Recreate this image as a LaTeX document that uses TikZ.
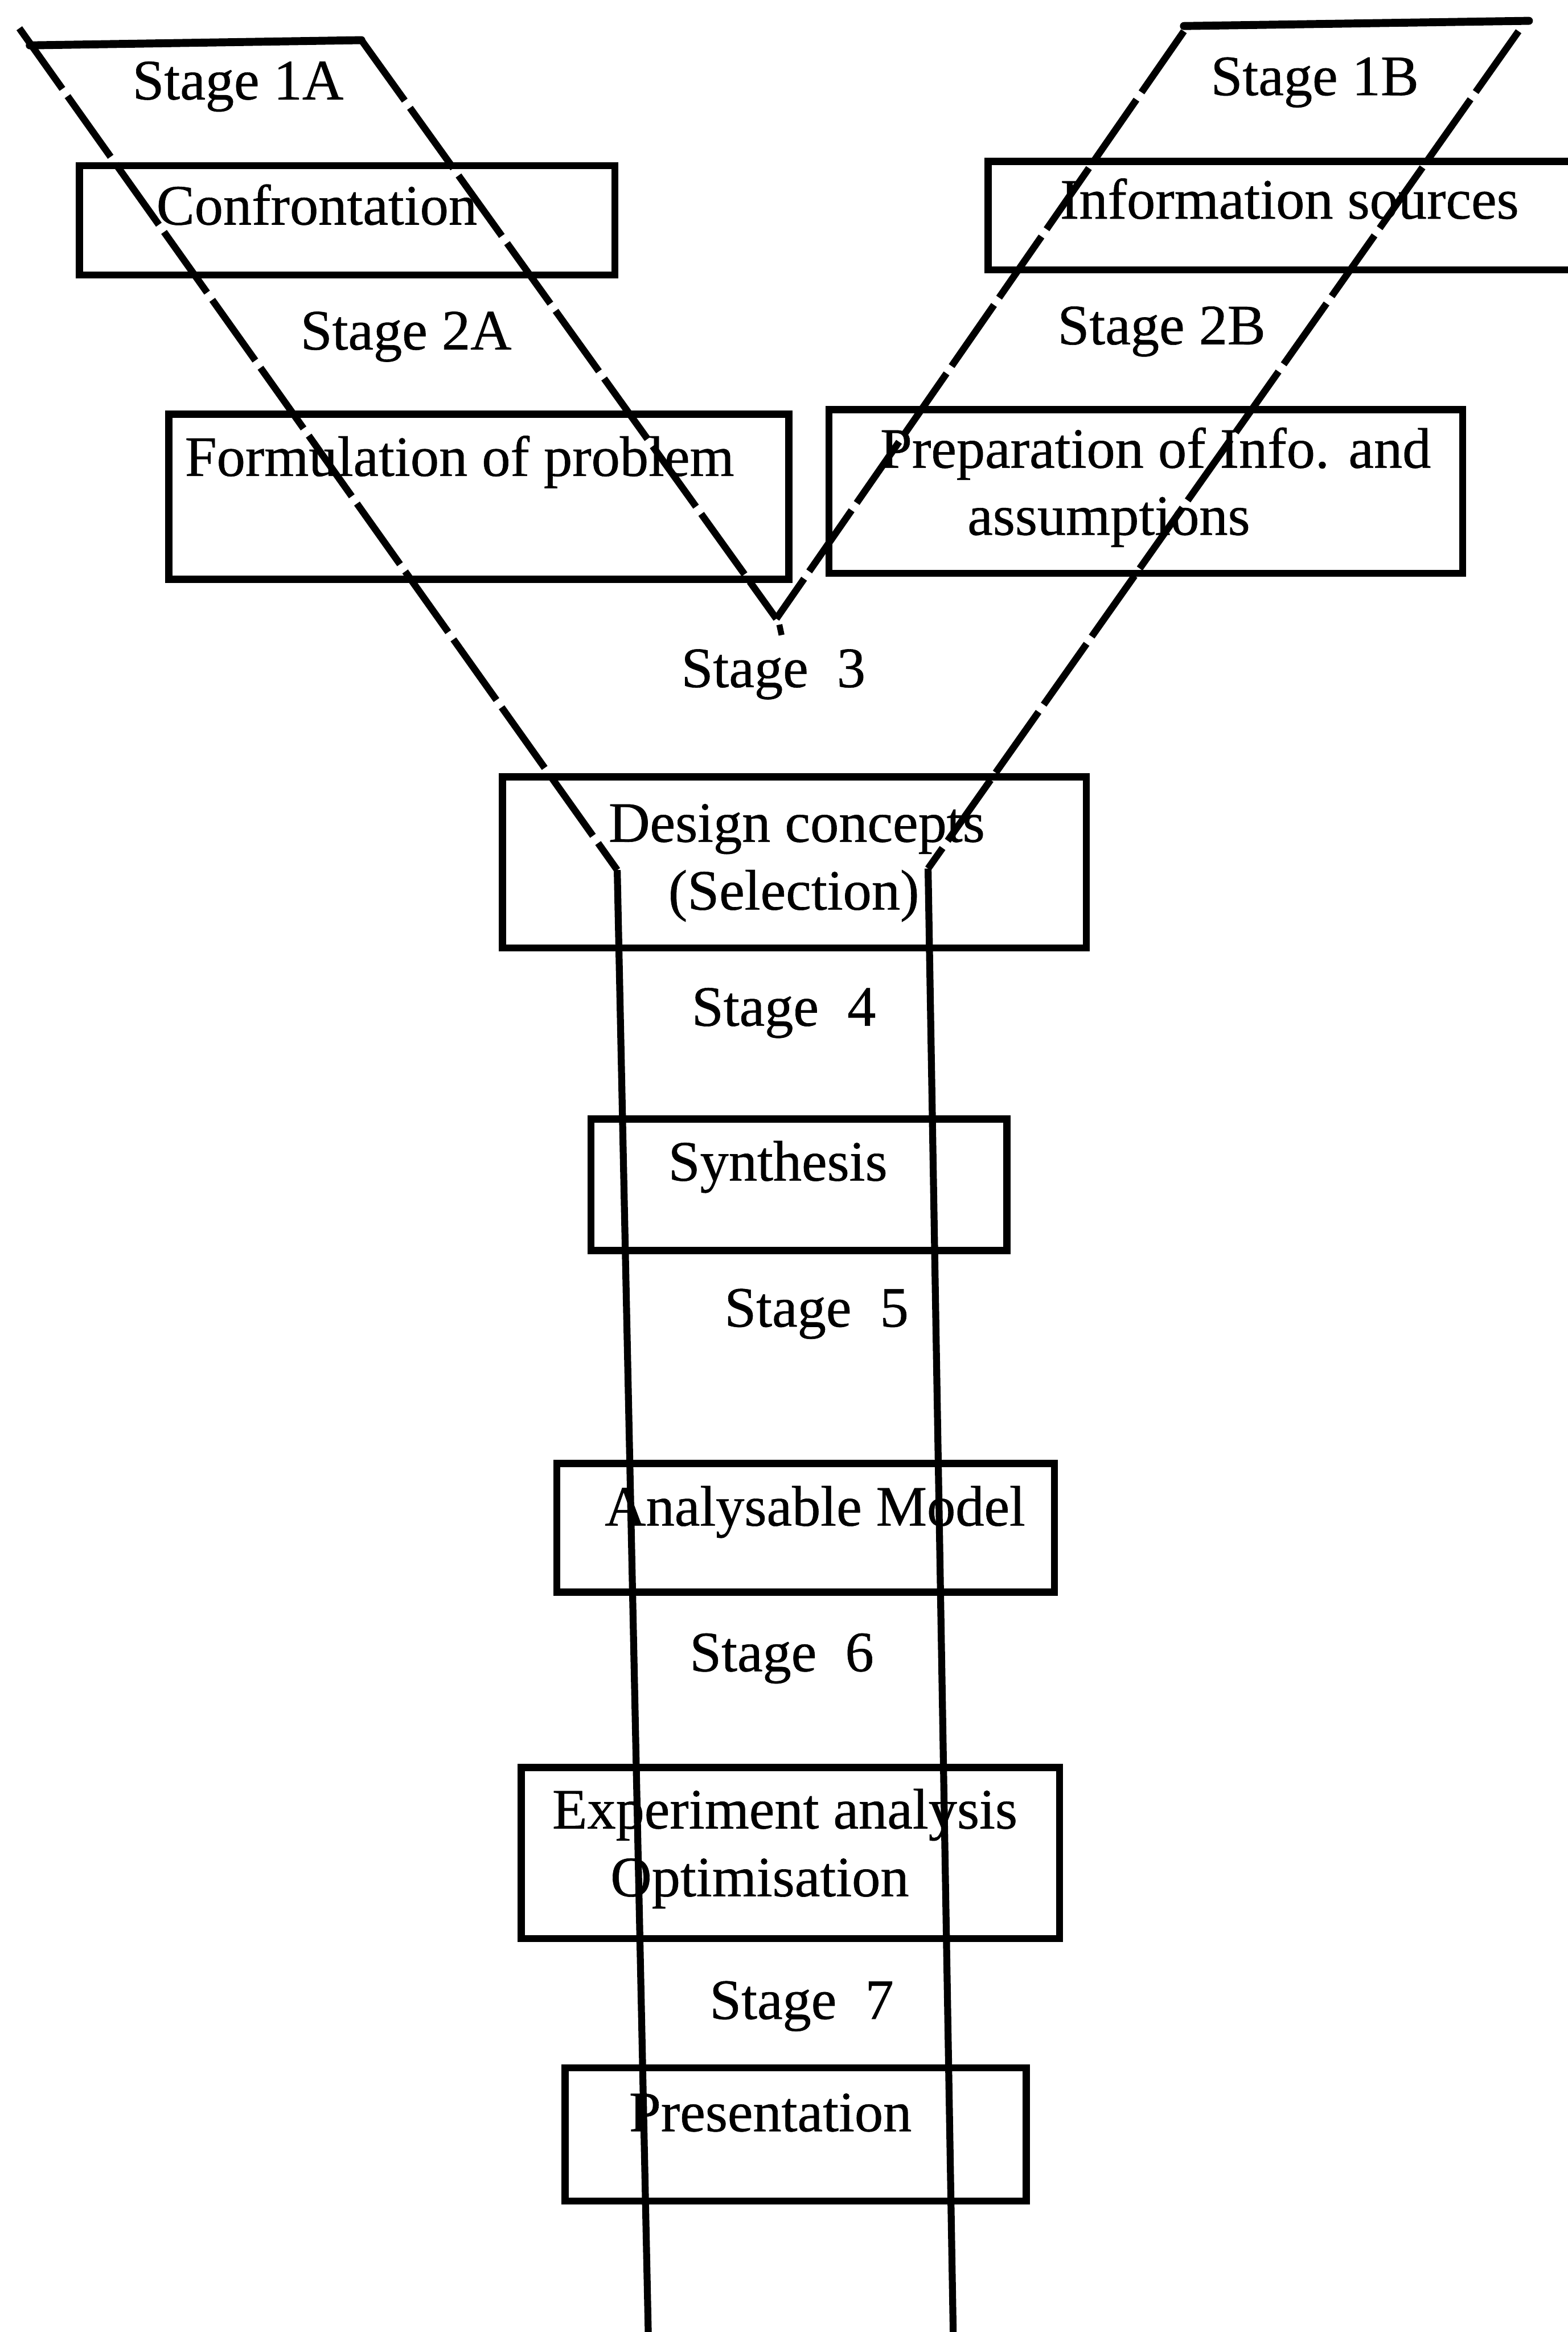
\documentclass[tikz,border=0pt]{standalone}
\usepackage{fontspec}
\setmainfont[FakeBold=0.6]{Liberation Serif}
\begin{document}
\begin{tikzpicture}[x=0.3mm, y=-0.3mm,
  stagebox/.style={draw, line width=1.45mm, inner sep=0pt, anchor=north west},
  funnel/.style={line width=1.4mm, dash pattern=on 15mm off 1.8mm},
  rim/.style={line width=1.6mm, line cap=round},
  shaft/.style={line width=1.4mm},
  txt/.style={anchor=base, inner sep=0pt, font=\fontsize{32.8}{39}\selectfont}
]
\useasboundingbox (0,0) rectangle (1054,1568);

% ---- key points of the two funnels and the shaft
\coordinate (aTopL)  at (13,19);
\coordinate (aRimL)  at (20,30.5);
\coordinate (aRimR)  at (243,27);
\coordinate (aFoot)  at (415,585);
\coordinate (apex)   at (522,416);
\coordinate (bRimL)  at (796,17.5);
\coordinate (bRimR)  at (1028,14);
\coordinate (bTopL)  at (796,21);
\coordinate (bTopR)  at (1021,21);
\coordinate (bFoot)  at (624,584);
\coordinate (shL)    at (436,1575);
\coordinate (shR)    at (641,1575);

% ---- boxes
\node[stagebox, minimum width=108mm,   minimum height=22.05mm] (conf)   at (51,109)    {};
\node[stagebox, minimum width=122.4mm, minimum height=21.9mm]  (info)   at (662,106)   {};
\node[stagebox, minimum width=125.1mm, minimum height=33.3mm]  (form)   at (111,276)   {};
\node[stagebox, minimum width=127.8mm, minimum height=33mm]    (prep)   at (555,273)   {};
\node[stagebox, minimum width=117.75mm,minimum height=34.5mm]  (design) at (335.5,520)  {};
\node[stagebox, minimum width=83.85mm, minimum height=26.55mm] (synth)  at (395,750)   {};
\node[stagebox, minimum width=100.35mm,minimum height=25.95mm] (model)  at (372,981.5) {};
\node[stagebox, minimum width=108.6mm, minimum height=34.5mm]  (exper)  at (348,1186)  {};
\node[stagebox, minimum width=93mm,    minimum height=26.85mm] (pres)   at (377.5,1388) {};

% ---- funnel A (left) and funnel B (right)
\draw[rim] (aRimL) -- (aRimR);
\draw[funnel] (aTopL) -- (aFoot);
\draw[funnel] (aRimR) -- (apex);
\draw[rim] (bRimL) -- (bRimR);
\draw[funnel] (bTopR) -- (bFoot);
\draw[funnel] (bTopL) -- (apex);
\draw[line width=1.2mm] (524,420) -- (525.5,427);

% ---- the shaft
\draw[shaft] (aFoot) -- (shL);
\draw[shaft] (bFoot) -- (shR);

% ---- labels
\node[txt] (s1a)    at (160,66.8)   {Stage 1A};
\node[txt] (s1b)    at (884,64)     {Stage 1B};
\node[txt] (tconf)  at (213,151)    {Confrontation};
\node[txt] (tinfo)  at (867,147)    {Information sources};
\node[txt] (s2a)    at (273,235)    {Stage 2A};
\node[txt] (s2b)    at (781,231.5)  {Stage 2B};
\node[txt] (tform)  at (309,320)    {Formulation of problem};
\node[txt] (tprepa) at (777,314.5)  {Preparation of Info. and};
\node[txt] (tprepb) at (745.5,359.6){assumptions};
\node[txt] (s3)     at (520,462)    {Stage\hspace{0.5em}3};
\node[txt] (tdesa)  at (535.7,566)  {Design concepts};
\node[txt] (tdesb)  at (533.7,611.6){(Selection)};
\node[txt] (s4)     at (527,689.7)  {Stage\hspace{0.5em}4};
\node[txt] (tsyn)   at (523,793.8)  {Synthesis};
\node[txt] (s5)     at (549,892)    {Stage\hspace{0.5em}5};
\node[txt] (tmod)   at (548,1025.8) {Analysable Model};
\node[txt] (s6)     at (525.6,1123.7){Stage\hspace{0.5em}6};
\node[txt] (texpa)  at (527.7,1229.4){Experiment analysis};
\node[txt] (texpb)  at (510.8,1275) {Optimisation};
\node[txt] (s7)     at (539,1357.5) {Stage\hspace{0.5em}7};
\node[txt] (tpres)  at (518,1433)   {Presentation};
\end{tikzpicture}
\end{document}
